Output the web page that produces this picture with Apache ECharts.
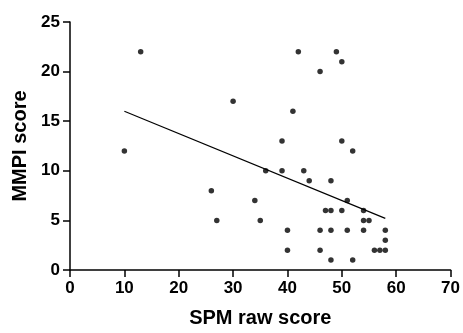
<!DOCTYPE html>
<html>
<head>
<meta charset="utf-8">
<script src="https://cdn.jsdelivr.net/npm/echarts@6/dist/echarts.min.js"></script>
<style>
  html, body { margin: 0; padding: 0; background: #fff; }
  #main { width: 463px; height: 333px; }
</style>
</head>
<body>
<div id="main"></div>
<script>
// SPM raw score (x) vs MMPI score (y)
const spmScores = [10, 13, 26, 27, 30, 34, 35, 36, 39, 39, 40, 40, 41, 42, 43, 44,
  46, 46, 46, 47, 48, 48, 48, 48, 49, 50, 50, 50, 51, 51, 52, 52,
  54, 54, 54, 55, 56, 57, 58, 58, 58];
const mmpiScores = [12, 22, 8, 5, 17, 7, 5, 10, 13, 10, 4, 2, 16, 22, 10, 9,
  20, 4, 2, 6, 9, 6, 4, 1, 22, 21, 13, 6, 7, 4, 12, 1,
  6, 5, 4, 5, 2, 2, 4, 3, 2];
// regression line end points
const fitX = [10, 58];
const fitY = [16.0, 5.2];

const xTicks = [0, 10, 20, 30, 40, 50, 60, 70];
const yTicks = [0, 5, 10, 15, 20, 25];

const font = 'Liberation Sans, Arial, sans-serif';
const axisLine = {show: true, lineStyle: {color: '#000', width: 1.5}};
const axisTick = {show: true, inside: false, length: 7, lineStyle: {color: '#000', width: 1.5}};

const chart = echarts.init(document.getElementById('main'));
chart.setOption({
    animation: false,
    grid: {left: 70, top: 22, right: 11, bottom: 57},
    xAxis: {
        type: 'value',
        min: xTicks[0],
        max: xTicks[xTicks.length - 1],
        interval: 10,
        name: 'SPM raw score',
        nameLocation: 'middle',
        nameGap: 38,
        nameTextStyle: {fontFamily: font, fontWeight: 'bold', fontSize: 20, color: '#000'},
        axisLine: axisLine,
        axisTick: axisTick,
        splitLine: {show: false},
        axisLabel: {fontFamily: font, fontWeight: 'bold', fontSize: 17, color: '#000', margin: 10}
    },
    yAxis: {
        type: 'value',
        min: yTicks[0],
        max: yTicks[yTicks.length - 1],
        interval: 5,
        name: 'MMPI score',
        nameLocation: 'middle',
        nameGap: 39,
        nameTextStyle: {fontFamily: font, fontWeight: 'bold', fontSize: 20, color: '#000'},
        axisLine: axisLine,
        axisTick: axisTick,
        splitLine: {show: false},
        axisLabel: {fontFamily: font, fontWeight: 'bold', fontSize: 17, color: '#000', margin: 10}
    },
    series: [
        {
            type: 'scatter',
            symbol: 'circle',
            symbolSize: 5.5,
            itemStyle: {color: '#000'},
            data: spmScores.map((x, i) => [x, mmpiScores[i]])
        },
        {
            type: 'line',
            symbol: 'none',
            lineStyle: {color: '#000', width: 1.2},
            data: fitX.map((x, i) => [x, fitY[i]])
        }
    ]
});
</script>
</body>
</html>
